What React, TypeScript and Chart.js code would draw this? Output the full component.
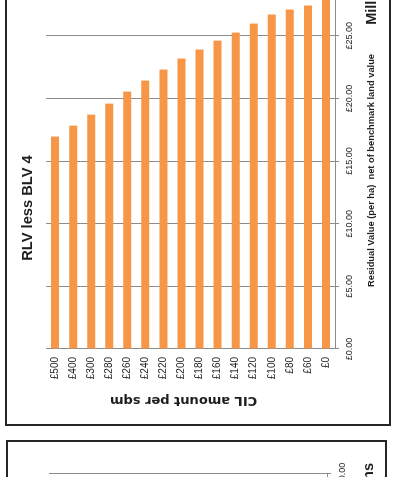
import React, { useEffect, useRef } from "react";
import { Chart, registerables } from "chart.js";

Chart.register(...registerables);

// ---- data ----
const cilCategories = ["£500", "£400", "£300", "£280", "£260", "£240", "£220", "£200", "£180", "£160", "£140", "£120", "£100", "£80", "£60", "£0"];
const rlvLessBlv4 = [16.96, 17.83, 18.71, 19.59, 20.55, 21.43, 22.31, 23.19, 23.91, 24.62, 25.26, 25.98, 26.7, 27.1, 27.42, 28.3];
const lowerChartValues: number[] = [];
const upperValueTicks = [0, 5, 10, 15, 20, 25];
const lowerValueTicks = [0];
const upperTitle = "RLV less BLV 4";
const valueAxisTitle = "Residual Value (per ha)  net of benchmark land value";
const categoryAxisTitle = "CIL amount per sqm";
const unitsLabel = "Millions";

const FONT = '"Liberation Sans", Arial, Helvetica, sans-serif';
const WIDE_BOLD = '"DejaVu Sans", Verdana, sans-serif';
const GRID = "#8c8c8c";
const INK = "#1e1e1e";
const BAR = "#F79646";

const money = (v: number) => (v < 0 ? "-£" : "£") + Math.abs(v).toFixed(2);

// "Millions" display-unit label placed near the end of the value axis
const unitsPlugin = {
  id: "unitsLabel",
  afterDraw(chart: any, _args: any, opts: any) {
    if (!opts || !opts.text) return;
    const x = chart.scales.x;
    const ctx = chart.ctx;
    ctx.save();
    ctx.font = `bold ${opts.size}px ${FONT}`;
    ctx.fillStyle = INK;
    ctx.textAlign = opts.align;
    ctx.textBaseline = "middle";
    ctx.fillText(opts.text, x.getPixelForValue(opts.at) + opts.dx, x.bottom - opts.fromBottom);
    ctx.restore();
  },
};

// category axis title, drawn slightly off-centre as in the reference
const categoryTitlePlugin = {
  id: "categoryTitle",
  afterDraw(chart: any, _args: any, opts: any) {
    if (!opts || !opts.text) return;
    const y = chart.scales.y;
    const ctx = chart.ctx;
    ctx.save();
    ctx.font = `bold ${opts.size}px ${WIDE_BOLD}`;
    ctx.fillStyle = INK;
    ctx.textAlign = "center";
    ctx.textBaseline = "middle";
    ctx.translate(y.left + opts.fromLeft, (y.top + y.bottom) / 2 + opts.shift);
    ctx.rotate(-Math.PI / 2);
    ctx.fillText(opts.text, 0, 0);
    ctx.restore();
  },
};

function buildConfig(p: any): any {
  return {
    type: "bar",
    data: {
      labels: cilCategories,
      datasets: [
        {
          data: p.values,
          backgroundColor: BAR,
          borderWidth: 0,
          barPercentage: 0.443,
          categoryPercentage: 1,
        },
      ],
    },
    options: {
      indexAxis: "y",
      animation: false,
      responsive: false,
      maintainAspectRatio: false,
      events: [],
      layout: { padding: { left: 0, top: p.padTop, bottom: 0, right: p.padRight } },
      plugins: {
        legend: { display: false },
        tooltip: { enabled: false },
        title: {
          display: !!p.title,
          text: p.title || "",
          color: INK,
          font: { family: FONT, size: 14.7, weight: "bold", lineHeight: 1.2 },
          padding: { top: 12.2, bottom: 9.2 },
        },
        unitsLabel: p.units,
        categoryTitle: { text: p.categoryTitle, size: 13, fromLeft: 23.5, shift: -7 },
      },
      scales: {
        x: {
          type: "linear",
          position: "bottom",
          min: p.min,
          max: p.max,
          afterBuildTicks: (s: any) => {
            s.ticks = p.ticks.map((v: number) => ({ value: v }));
          },
          afterFit: (s: any) => {
            s.height = p.xAxisHeight;
          },
          grid: { color: GRID, lineWidth: 1, tickLength: 4, drawTicks: true },
          border: { display: true, color: GRID, width: 1 },
          ticks: {
            padding: p.tickPad,
            color: INK,
            autoSkip: false,
            maxRotation: 0,
            font: { family: FONT, size: 9 },
            callback: (v: any) => money(Number(v)),
          },
          title: {
            display: !!p.valueTitle,
            text: p.valueTitle || "",
            color: INK,
            font: { family: FONT, size: 9.3, weight: "bold", lineHeight: 1.2 },
            padding: { top: 0, bottom: 11.9 },
          },
        },
        y: {
          type: "category",
          position: "left",
          afterFit: (s: any) => {
            s.width = 75;
          },
          grid: { display: true, drawOnChartArea: false, drawTicks: false, color: GRID },
          border: { display: true, color: GRID, width: 1 },
          ticks: { padding: 8, color: INK, autoSkip: false, font: { family: FONT, size: 10 } },
          title: { display: false },
        },
      },
    },
    plugins: [unitsPlugin, categoryTitlePlugin],
  };
}

const upperConfig = buildConfig({
  values: rlvLessBlv4,
  title: upperTitle,
  valueTitle: valueAxisTitle,
  categoryTitle: categoryAxisTitle,
  min: 0,
  max: 28.5,
  ticks: upperValueTicks,
  padTop: 0,
  padRight: 58,
  xAxisHeight: 54,
  tickPad: 5.6,
  units: { text: unitsLabel, size: 14.5, align: "left", at: 25, dx: 11, fromBottom: 17.5 },
});

const lowerConfig = buildConfig({
  values: lowerChartValues,
  title: "",
  valueTitle: "",
  categoryTitle: "",
  min: -30,
  max: 0,
  ticks: lowerValueTicks,
  padTop: 41,
  padRight: 32,
  xAxisHeight: 58,
  tickPad: 6.6,
  units: { text: unitsLabel, size: 14.5, align: "right", at: 0, dx: 11, fromBottom: 16 },
});

function RotatedChart(props: { config: any; width: number; height: number; left: number; bottom: number }) {
  const { config, width, height, left, bottom } = props;
  const ref = useRef<HTMLCanvasElement | null>(null);
  useEffect(() => {
    const chart = new Chart(ref.current as HTMLCanvasElement, config);
    return () => chart.destroy();
  }, [config]);
  return (
    <div
      style={{
        position: "absolute",
        left: 0,
        top: 0,
        width,
        height,
        boxSizing: "border-box",
        border: "2px solid #262626",
        background: "#fff",
        transformOrigin: "0 0",
        transform: `translate(${left}px, ${bottom}px) rotate(-90deg)`,
      }}
    >
      <canvas ref={ref} width={width - 4} height={height - 4} style={{ display: "block" }} />
    </div>
  );
}

export default function App() {
  return (
    <div
      style={{
        position: "absolute",
        left: 0,
        top: 0,
        width: 393,
        height: 477,
        overflow: "hidden",
        background: "#fff",
      }}
    >
      <RotatedChart config={upperConfig} width={494} height={386} left={5} bottom={426} />
      <RotatedChart config={lowerConfig} width={494} height={381} left={6} bottom={934} />
    </div>
  );
}
